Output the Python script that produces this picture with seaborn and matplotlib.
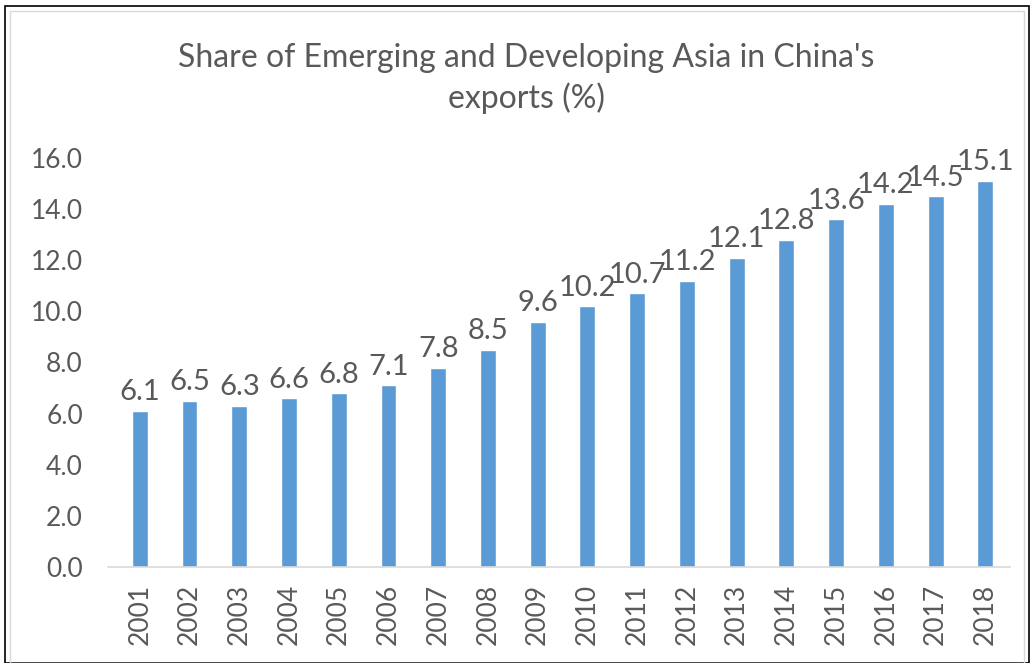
import matplotlib
matplotlib.use("Agg")
import matplotlib.pyplot as plt
import seaborn as sns
import pandas as pd
from matplotlib.patches import Rectangle

years = ["2001", "2002", "2003", "2004", "2005", "2006", "2007", "2008", "2009",
         "2010", "2011", "2012", "2013", "2014", "2015", "2016", "2017", "2018"]
shares = [6.1, 6.5, 6.3, 6.6, 6.8, 7.1, 7.8, 8.5, 9.6,
          10.2, 10.7, 11.2, 12.1, 12.8, 13.6, 14.2, 14.5, 15.1]
yticks = [0, 2, 4, 6, 8, 10, 12, 14, 16]
title = "Share of Emerging and Developing Asia in China's\nexports (%)"

sns.set_theme(style="white")
plt.rcParams['font.family'] = ['Lato', 'DejaVu Sans']

df = pd.DataFrame({"year": years, "share": shares})
text_col = "#595959"

fig = plt.figure(figsize=(10.34, 6.63), dpi=100)
ax = fig.add_axes([0.1044, 0.1448, 0.8726, 0.617])
sns.barplot(data=df, x="year", y="share", color="#5B9BD5", width=0.32,
            saturation=1, ax=ax)

ax.set_ylim(0, 16)
ax.set_xlim(-0.64, 17.5)
ax.set_yticks(yticks)
ax.set_yticklabels([f"{v:.1f}" for v in yticks], fontsize=19, color=text_col)
ax.tick_params(axis="x", labelrotation=90, labelsize=19, colors=text_col, length=0, pad=12)
ax.tick_params(axis="y", length=0, pad=18)
ax.set_xlabel("")
ax.set_ylabel("")
for s in ["top", "right", "left"]:
    ax.spines[s].set_visible(False)
ax.spines["bottom"].set_color("#D9D9D9")
ax.spines["bottom"].set_linewidth(1.2)

for c in ax.containers:
    labels = ax.bar_label(c, labels=[f"{v:.1f}" for v in shares], padding=4,
                          fontsize=21, color=text_col)
    for t in labels:
        t.set_clip_on(False)

fig.text(0.509, 0.882, title, ha="center", va="center", fontsize=23,
         color=text_col, linespacing=1.35)

fig.patches.append(Rectangle((5 / 1034, 0), 1024 / 1034, 1 - 6 / 663,
                             transform=fig.transFigure, fill=False,
                             edgecolor="black", linewidth=1.2))
fig.patches.append(Rectangle((10 / 1034, 0), 1014 / 1034, 1 - 11 / 663,
                             transform=fig.transFigure, fill=False,
                             edgecolor="#D9D9D9", linewidth=1))

fig.savefig("out.png", dpi=100)
